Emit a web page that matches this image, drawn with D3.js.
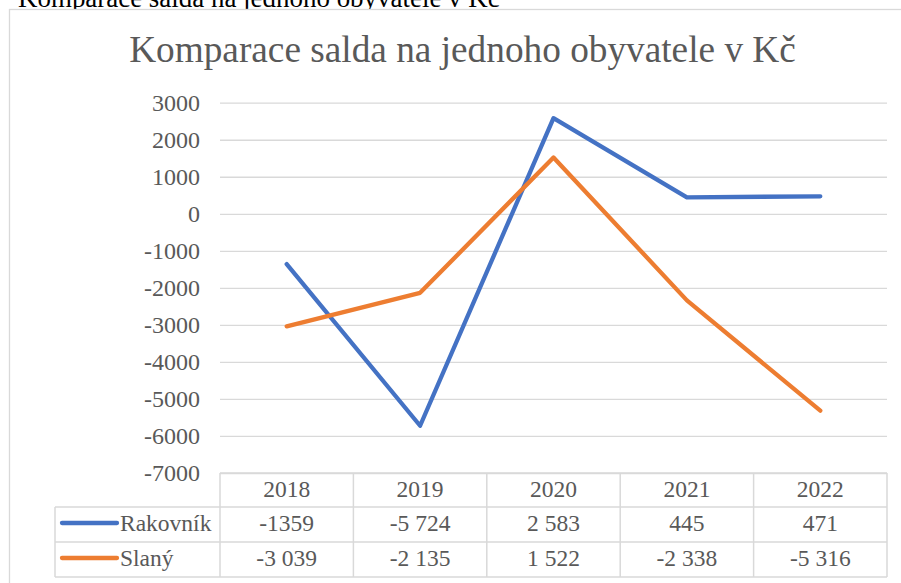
<!DOCTYPE html>
<html>
<head>
<meta charset="utf-8">
<script src="https://cdn.jsdelivr.net/npm/d3@7"></script>
<style>
  body { margin: 0; background: #fff; }
  svg { display: block; }
  svg text { font-family: 'Liberation Serif', 'Times New Roman', serif !important; }
</style>
</head>
<body>
<script>
var years = ["2018", "2019", "2020", "2021", "2022"];
var seriesNames = ["Rakovník", "Slaný"];
var rakovnik = [-1359, -5724, 2583, 445, 471];
var slany = [-3039, -2135, 1522, -2338, -5316];
var rakovnikLabels = ["-1359", "-5 724", "2 583", "445", "471"];
var slanyLabels = ["-3 039", "-2 135", "1 522", "-2 338", "-5 316"];
var yTicks = [3000, 2000, 1000, 0, -1000, -2000, -3000, -4000, -5000, -6000, -7000];
var colors = ["#4472C4", "#ED7D31"];
var titleText = "Komparace salda na jednoho obyvatele v Kč";

var FONT = "Liberation Serif";

var width = 901,
    height = 583;

var svg = d3.select("body").append("svg")
    .attr("width", width)
    .attr("height", height)
    .attr("font-family", FONT);

// shrink/grow a text so it fills a given width
function fit(sel, w) {
    var fs = parseFloat(sel.attr("font-size"));
    var len = sel.node().getComputedTextLength();
    sel.attr("font-size", fs * w / len);
}

// caption of the document, cut off by the window top
svg.append("text")
    .attr("x", 18)
    .attr("y", 7)
    .attr("fill", "#000")
    .attr("font-family", FONT)
    .attr("font-size", 27)
    .text(titleText)
    .call(fit, 482);

// chart box
svg.append("rect")
    .attr("x", 9.5)
    .attr("y", 9.5)
    .attr("width", 920)
    .attr("height", 600)
    .attr("fill", "#fff")
    .attr("stroke", "#d9d9d9")
    .attr("stroke-width", 1.3);

svg.append("text")
    .attr("x", 462.5)
    .attr("y", 62)
    .attr("text-anchor", "middle")
    .attr("fill", "#595959")
    .attr("font-family", FONT)
    .attr("font-size", 37)
    .text(titleText)
    .call(fit, 667);

var x = d3.scaleBand()
    .domain(years)
    .range([220, 887]);

var y = d3.scaleLinear()
    .domain([-7000, 3000])
    .range([473, 102.7]);

var yAxis = d3.axisLeft(y)
    .tickValues(yTicks)
    .tickSize(-(887 - 220))
    .tickPadding(20)
    .tickFormat(function(d) { return String(d); });

var gy = svg.append("g")
    .attr("transform", "translate(220,0)")
    .call(yAxis)
    .attr("font-family", FONT)
    .attr("font-size", 24);
gy.select(".domain").remove();
gy.selectAll(".tick line")
    .attr("stroke", "#d9d9d9")
    .attr("stroke-width", 1.3);
gy.selectAll(".tick text")
    .attr("fill", "#595959");

var line = d3.line()
    .x(function(d, i) { return x(years[i]) + x.bandwidth() / 2; })
    .y(function(d) { return y(d); });

[rakovnik, slany].forEach(function(s, k) {
    svg.append("path")
        .datum(s)
        .attr("d", line)
        .attr("fill", "none")
        .attr("stroke", colors[k])
        .attr("stroke-width", 4.3)
        .attr("stroke-linejoin", "round")
        .attr("stroke-linecap", "round");
});

// data table
var rowTop = [473, 507, 542],
    rowBottom = 577,
    leftCol = 55;
var grid = svg.append("g")
    .attr("stroke", "#d9d9d9")
    .attr("stroke-width", 1.5)
    .attr("fill", "none");

grid.append("line").attr("x1", 220).attr("x2", 887).attr("y1", rowTop[0]).attr("y2", rowTop[0]);
grid.append("line").attr("x1", leftCol).attr("x2", 887).attr("y1", rowTop[1]).attr("y2", rowTop[1]);
grid.append("line").attr("x1", leftCol).attr("x2", 887).attr("y1", rowTop[2]).attr("y2", rowTop[2]);
grid.append("line").attr("x1", leftCol).attr("x2", 887).attr("y1", rowBottom).attr("y2", rowBottom);
grid.append("line").attr("x1", leftCol).attr("x2", leftCol).attr("y1", rowTop[1]).attr("y2", rowBottom);
years.forEach(function(yr) {
    grid.append("line").attr("x1", x(yr)).attr("x2", x(yr)).attr("y1", rowTop[0]).attr("y2", rowBottom);
});
grid.append("line").attr("x1", 887).attr("x2", 887).attr("y1", rowTop[0]).attr("y2", rowBottom);

function cell(txt, cx, by, anchor) {
    svg.append("text")
        .attr("x", cx)
        .attr("y", by)
        .attr("text-anchor", anchor)
        .attr("fill", "#595959")
        .attr("font-family", FONT)
        .attr("font-size", 23.5)
        .text(txt);
}

years.forEach(function(yr) {
    cell(yr, x(yr) + x.bandwidth() / 2, 497, "middle");
});

var rowMid = [523, 558];
[rakovnikLabels, slanyLabels].forEach(function(lbls, k) {
    var cy = rowMid[k];
    lbls.forEach(function(t, i) {
        cell(t, x(years[i]) + x.bandwidth() / 2, cy + 8, "middle");
    });

    svg.append("line")
        .attr("x1", 62).attr("x2", 117)
        .attr("y1", cy).attr("y2", cy)
        .attr("stroke", colors[k])
        .attr("stroke-width", 4.3)
        .attr("stroke-linecap", "round");

    cell(seriesNames[k], 120, cy + 8, "start");
});
</script>
</body>
</html>
